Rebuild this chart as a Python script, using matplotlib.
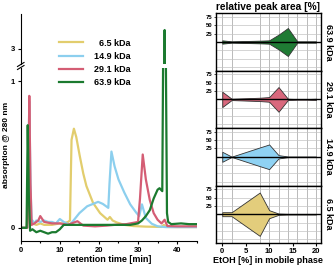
import numpy as np
import matplotlib.pyplot as plt
from matplotlib.lines import Line2D

plt.rcParams['font.family'] = ['Liberation Sans', 'DejaVu Sans']
plt.rcParams['font.weight'] = 'bold'
plt.rcParams['axes.labelweight'] = 'bold'

# ---- chromatograms (retention time [min], absorption @ 280 nm) ----
t_65 = [0, 1.5, 1.8, 2.0, 2.3, 2.6, 3.0, 4.0, 5.0, 6.0, 8.0, 10.0, 11.0, 12.1, 12.6, 13.0, 13.6,
        14.2, 15.1, 16.0, 16.8, 18.5, 20.3, 22.2, 22.8, 23.5, 24.5, 26.5, 28.8, 32.0, 36.0, 36.6, 37.2, 40.0, 45.0]
a_65 = [0, 0, 0.12, 0.24, 0.03, 0.02, 0.03, 0.02, 0.03, 0.02, 0.02, 0.03, 0.03, 0.04, 0.05, 0.6, 0.676,
        0.62, 0.49, 0.37, 0.285, 0.17, 0.10, 0.055, 0.074, 0.05, 0.037, 0.02, 0.012, 0.008, 0.006, 0.02, 0.006, 0.005, 0.005]

t_149 = [0, 1.6, 1.9, 2.2, 2.5, 2.8, 3.0, 3.5, 4.0, 5.0, 6.0, 7.0, 8.0, 9.0, 10.0, 11.0, 12.5, 13.5, 15.0,
         17.0, 19.8, 21.0, 22.4, 22.7, 23.2, 24.0, 25.0, 26.5, 28.0, 29.5, 30.3, 31.0, 32.0, 33.5, 35.0, 37.0, 45.0]
a_149 = [0, 0, 0.3, 0.86, 0.3, 0.03, 0.05, 0.03, 0.05, 0.04, 0.05, 0.04, 0.04, 0.03, 0.06, 0.04, 0.02, 0.05, 0.10,
         0.147, 0.177, 0.163, 0.136, 0.3, 0.52, 0.42, 0.33, 0.24, 0.16, 0.105, 0.08, 0.16, 0.067, 0.028, 0.01, 0.005, 0.005]

t_291 = [0, 1.7, 2.0, 2.2, 2.5, 2.8, 3.5, 4.5, 5.0, 6.0, 8.0, 10.0, 12.0, 13.0, 14.5, 16.0, 19.0, 22.0, 24.0,
         27.0, 29.0, 30.0, 30.5, 31.2, 32.0, 33.0, 34.0, 35.0, 36.0, 36.8, 37.5, 40.0, 45.0]
a_291 = [0, 0, 0.4, 0.9, 0.3, 0.02, 0.03, 0.05, 0.08, 0.04, 0.03, 0.03, 0.02, 0.03, 0.045, 0.015, 0.01, 0.015, 0.02,
         0.025, 0.035, 0.04, 0.2, 0.50, 0.33, 0.19, 0.10, 0.055, 0.03, 0.055, 0.012, 0.01, 0.01]

t_639 = [0, 1.5, 1.8, 2.1, 2.4, 3.0, 4.0, 5.0, 6.0, 7.0, 8.0, 9.0, 10.0, 11.0, 14.0, 18.0, 22.0, 26.0, 28.0,
         30.0, 31.0, 32.0, 33.0, 34.0, 35.0, 35.5, 36.2, 36.5, 36.8, 37.1, 37.4, 37.7, 38.5, 41.0, 43.0, 45.0]
a_639 = [0, 0, 0.7, 0.2, -0.02, -0.01, -0.03, -0.02, -0.03, -0.04, -0.03, -0.03, -0.01, 0.02, 0.02, 0.02, 0.02, 0.02, 0.02,
         0.03, 0.05, 0.08, 0.12, 0.20, 0.26, 0.27, 0.25, 1.5, 3.13, 1.2, 0.10, 0.04, 0.025, 0.03, 0.025, 0.025]

labels = ['6.5 kDa', '14.9 kDa', '29.1 kDa', '63.9 kDa']
line_colors = ['#e2cd6d', '#8ccfee', '#d45d74', '#1b7a2f']
fill_colors = ['#e3cd7c', '#8fd2f3', '#d9687d', '#1f7b34']

# ---- relative peak area [%] vs EtOH [%] ----
etoh = [0, 2, 8, 10, 12, 14, 16, 18, 20]
area_65 = [6, 6, 65, 12, 2, 1, 1, 1, 1]
area_149 = [15, 0.5, 28, 37, 5, 1, 1, 1, 1]
area_291 = [23, 2, 5, 7, 37, 2, 1, 1, 2]
area_639 = [5, 2, 4, 5, 22, 42, 2, 2, 2]
area_grid = [25, 50, 75]

W, H = 335, 270
fig = plt.figure(figsize=(W / 100, H / 100), dpi=100)


def px(x0, y0, x1, y1):
    return [x0 / W, 1 - y1 / H, (x1 - x0) / W, (y1 - y0) / H]


ax_lo = fig.add_axes(px(20.7, 68, 196.7, 241))
ax_hi = fig.add_axes(px(20.7, 14, 196.7, 64))

series = [(t_65, a_65), (t_149, a_149), (t_291, a_291), (t_639, a_639)]
handles = []
for (t, a), c, lab in zip(series, line_colors, labels):
    h, = ax_lo.plot(t, a, color=c, lw=1.6, label=lab)
    ax_hi.plot(t, a, color=c, lw=1.6)
    handles.append(h)

ax_lo.set_xlim(0, 45)
ax_hi.set_xlim(0, 45)
ax_lo.set_ylim(-0.09, 1.09)
ax_hi.set_ylim(2.897, 3.24)

for ax in (ax_lo, ax_hi):
    ax.spines['top'].set_visible(False)
    ax.spines['right'].set_visible(False)
    ax.tick_params(labelsize=5.5, width=0.8, length=2.5, pad=1.5)
ax_hi.spines['bottom'].set_visible(False)
ax_hi.set_xticks([])
ax_hi.set_yticks([3])
ax_lo.set_yticks([0, 1])
ax_lo.set_xticks([0, 10, 20, 30, 40])
ax_lo.set_xticks([5, 15, 25, 35, 45], minor=True)
ax_lo.tick_params(which='minor', length=1.5, width=0.8)
ax_lo.set_xlabel('retention time [min]', fontsize=6.5, labelpad=1)
fig.text(7 / W, 1 - 145 / H, 'absorption @ 280 nm', rotation=90, fontsize=6,
         fontweight='bold', ha='center', va='center')

# break marks on the y axis
for yb in (64.5, 67.5):
    fig.add_artist(Line2D([17.5 / W, 24 / W], [1 - (yb + 2) / H, 1 - (yb - 2) / H],
                          color='black', lw=0.8))

leg = fig.legend(handles, ['\u2007' + labels[0]] + labels[1:], loc='upper left',
                 bbox_to_anchor=(55 / W, 1 - 35 / H), frameon=False, fontsize=6.5,
                 handlelength=2.7, handletextpad=1.2, labelspacing=0.45, borderaxespad=0)
for ln in leg.get_lines():
    ln.set_linewidth(1.6)

# ---- right panels ----
areas = [area_639, area_291, area_149, area_65]
names = [labels[3], labels[2], labels[1], labels[0]]
fcols = [fill_colors[3], fill_colors[2], fill_colors[1], fill_colors[0]]
top, ph = 13.3, 57.4
r_axes = []
for i, (ar, nm, fc) in enumerate(zip(areas, names, fcols)):
    ax = fig.add_axes(px(215.7, top + i * ph, 320.7, top + (i + 1) * ph))
    for xv in etoh:
        ax.axvline(xv, color='#a0a0a0', lw=0.5, zorder=0)
    for yv in area_grid:
        ax.axhline(yv, color='#c4c4c4', lw=0.5, zorder=0)
        ax.axhline(-yv, color='#c4c4c4', lw=0.5, zorder=0)
    ar = np.array(ar)
    ax.fill_between(etoh, -ar, ar, facecolor=fc, edgecolor='#333333', lw=0.6, zorder=2)
    ax.axhline(0, color='black', lw=1.0, zorder=3)
    ax.set_xlim(-1.4, 21)
    ax.set_ylim(-86, 86)
    ax.set_yticks(area_grid)
    ax.tick_params(axis='y', labelsize=4.3, length=1.2, width=0.5, pad=1)
    ax.set_xticks([0, 5, 10, 15, 20])
    ax.tick_params(axis='x', labelsize=5.5, length=2, width=0.8, pad=1.5)
    if i < 3:
        ax.tick_params(axis='x', labelbottom=False, length=0)
    for s in ax.spines.values():
        s.set_linewidth(1.0)
    ax.text(1.035, 0.5, nm, rotation=270, transform=ax.transAxes, ha='left', va='center',
            fontsize=6.5, fontweight='bold')
    r_axes.append(ax)

r_axes[-1].set_xlabel('EtOH [%] in mobile phase', fontsize=6.5, labelpad=1)
fig.text(268 / W, 1 - 6.5 / H, 'relative peak area [%]', ha='center', va='center',
         fontsize=7.3, fontweight='bold')

fig.savefig('out.png', dpi=100)
